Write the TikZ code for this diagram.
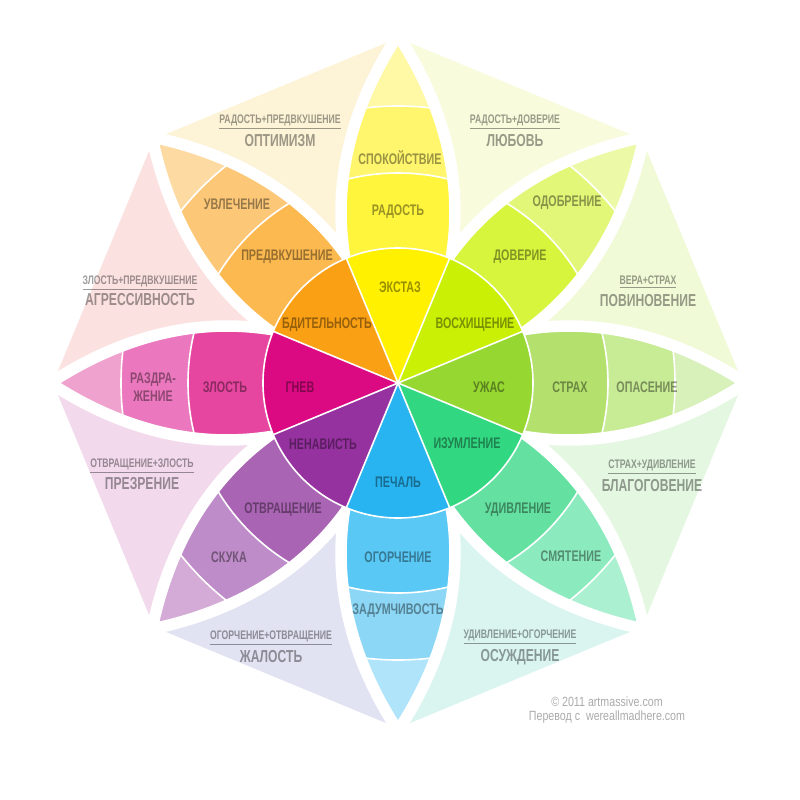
\documentclass[tikz,border=0pt]{standalone}
\usepackage{fontspec}
\newfontfamily\lblfont{Liberation Sans}[FakeStretch=0.7]
\newfontfamily\notefont{Liberation Sans}[FakeStretch=0.8]

% petal colours: 1 inner, 2 middle, 3 outer, 4 tip
\definecolor{yel1}{RGB}{255,241,0}   \definecolor{yel2}{RGB}{255,245,60}
\definecolor{yel3}{RGB}{255,246,110} \definecolor{yel4}{RGB}{255,248,165}
\definecolor{lim1}{RGB}{202,240,5}   \definecolor{lim2}{RGB}{215,245,60}
\definecolor{lim3}{RGB}{226,246,120} \definecolor{lim4}{RGB}{236,250,168}
\definecolor{grn1}{RGB}{150,215,50}  \definecolor{grn2}{RGB}{180,225,110}
\definecolor{grn3}{RGB}{200,235,150} \definecolor{grn4}{RGB}{216,241,186}
\definecolor{tea1}{RGB}{50,215,130}  \definecolor{tea2}{RGB}{100,225,160}
\definecolor{tea3}{RGB}{140,235,190} \definecolor{tea4}{RGB}{172,240,210}
\definecolor{blu1}{RGB}{40,180,240}  \definecolor{blu2}{RGB}{90,200,245}
\definecolor{blu3}{RGB}{140,215,245} \definecolor{blu4}{RGB}{176,228,250}
\definecolor{pur1}{RGB}{150,50,160}  \definecolor{pur2}{RGB}{170,100,180}
\definecolor{pur3}{RGB}{190,140,200} \definecolor{pur4}{RGB}{212,170,215}
\definecolor{mag1}{RGB}{220,10,130}  \definecolor{mag2}{RGB}{230,70,160}
\definecolor{mag3}{RGB}{235,120,190} \definecolor{mag4}{RGB}{240,162,206}
\definecolor{ora1}{RGB}{250,160,20}  \definecolor{ora2}{RGB}{252,185,80}
\definecolor{ora3}{RGB}{252,200,120} \definecolor{ora4}{RGB}{253,218,162}
% dyad triangles
\definecolor{optc}{RGB}{253,243,215} \definecolor{lovc}{RGB}{248,251,220}
\definecolor{subc}{RGB}{240,250,215} \definecolor{awec}{RGB}{228,247,225}
\definecolor{disc}{RGB}{218,245,240} \definecolor{pitc}{RGB}{225,226,242}
\definecolor{conc}{RGB}{242,218,236} \definecolor{aggc}{RGB}{252,225,225}

\tikzset{
  lbl/.style={font=\lblfont\bfseries\fontsize{11.5}{13}\selectfont,
    text=black, text opacity=0.4, align=center, inner sep=0pt},
  dyad/.style={font=\lblfont\bfseries\fontsize{13}{14}\selectfont,
    text=black, text opacity=0.38, inner sep=0pt},
  mix/.style={font=\lblfont\bfseries\fontsize{9.3}{10}\selectfont,
    text=black, text opacity=0.38, inner sep=0pt},
  gap/.style={draw=white, line width=13.5pt, line join=round},
  rim/.style={draw=white, line width=3.8pt, line join=round},
  seam/.style={draw=white, line width=1.2pt}
}

\begin{document}
\begin{tikzpicture}[x=0.75pt, y=0.75pt]
  \fill[white] (-398,-417) rectangle (402,383);
  \useasboundingbox (-398,-417) rectangle (402,383);

  \foreach \a/\c in {112.5/optc,67.5/lovc,22.5/subc,-22.5/awec,
                     -67.5/disc,-112.5/pitc,-157.5/conc,157.5/aggc}
    \fill[\c] (0,0) -- ({\a-22.5}:345) -- ({\a+22.5}:345) -- cycle;

  \foreach \a in {90,45,0,-45,-90,-135,180,135}
    \draw[gap] (0,0) to[bend left=32.5] (\a:342) to[bend left=32.5] (0,0);

  \foreach \a/\c in {90/yel,45/lim,0/grn,-45/tea,-90/blu,-135/pur,180/mag,135/ora} {
    \begin{scope}
      \clip (0,0) to[bend left=32.5] (\a:342) to[bend left=32.5] (0,0);
      \fill[\c4] (0,0) circle (345);
      \fill[\c3] (0,0) circle (277);
      \fill[\c2] (0,0) circle (210);
      \draw[seam] (0,0) circle (277) (0,0) circle (210);
    \end{scope}
  }
  \foreach \a in {90,45,0,-45,-90,-135,180,135}
    \draw[rim] (0,0) to[bend left=32.5] (\a:342) to[bend left=32.5] (0,0);

  \foreach \a/\c in {90/yel,45/lim,0/grn,-45/tea,-90/blu,-135/pur,180/mag,135/ora}
    \fill[\c1] (0,0) -- ({\a-22.5}:135)
      arc[start angle=\a-22.5, end angle=\a+22.5, radius=135] -- cycle;
  \foreach \a in {22.5,67.5,...,337.5}
    \draw[seam] (0,0) -- (\a:135);
  \draw[seam] (0,0) circle (135);

  \node[lbl] (ecstasy)      at (2,96)     {ЭКСТАЗ};
  \node[lbl] (joy)          at (0,171)    {РАДОСТЬ};
  \node[lbl] (serenity)     at (2,225)    {СПОКОЙСТВИЕ};
  \node[lbl] (admiration)   at (77,58)    {ВОСХИЩЕНИЕ};
  \node[lbl] (trust)        at (122,126)  {ДОВЕРИЕ};
  \node[lbl] (acceptance)   at (169,180)  {ОДОБРЕНИЕ};
  \node[lbl] (terror)       at (91,-4)    {УЖАС};
  \node[lbl] (fear)         at (172,-4)   {СТРАХ};
  \node[lbl] (apprehension) at (249,-4)   {ОПАСЕНИЕ};
  \node[lbl] (amazement)    at (69,-60)   {ИЗУМЛЕНИЕ};
  \node[lbl] (surprise)     at (120,-127) {УДИВЛЕНИЕ};
  \node[lbl] (distraction)  at (173,-173) {СМЯТЕНИЕ};
  \node[lbl] (grief)        at (0,-99)    {ПЕЧАЛЬ};
  \node[lbl] (sadness)      at (0,-174)   {ОГОРЧЕНИЕ};
  \node[lbl] (pensiveness)  at (0,-228)   {ЗАДУМЧИВОСТЬ};
  \node[lbl] (loathing)     at (-75,-61)  {НЕНАВИСТЬ};
  \node[lbl] (disgust)      at (-115,-127){ОТВРАЩЕНИЕ};
  \node[lbl] (boredom)      at (-169,-174){СКУКА};
  \node[lbl] (rage)         at (-98,-4)   {ГНЕВ};
  \node[lbl] (anger)        at (-173,-4)  {ЗЛОСТЬ};
  \node[lbl] (annoyance)    at (-245,-4)  {РАЗДРА-\\ЖЕНИЕ};
  \node[lbl] (vigilance)    at (-71,58)   {БДИТЕЛЬНОСТЬ};
  \node[lbl] (anticipation) at (-111,126) {ПРЕДВКУШЕНИЕ};
  \node[lbl] (interest)     at (-161,179) {УВЛЕЧЕНИЕ};

  \node[mix]  (optimism-mix)    at (-118,261) {\underline{РАДОСТЬ+ПРЕДВКУШЕНИЕ}};
  \node[dyad] (optimism)        at (-118,242) {ОПТИМИЗМ};
  \node[mix]  (love-mix)        at (117,261)  {\underline{РАДОСТЬ+ДОВЕРИЕ}};
  \node[dyad] (love)            at (117,242)  {ЛЮБОВЬ};
  \node[mix]  (submission-mix)  at (250,101)  {\underline{ВЕРА+СТРАХ}};
  \node[dyad] (submission)      at (250,82)   {ПОВИНОВЕНИЕ};
  \node[mix]  (awe-mix)         at (254,-84)  {\underline{СТРАХ+УДИВЛЕНИЕ}};
  \node[dyad] (awe)             at (254,-103) {БЛАГОГОВЕНИЕ};
  \node[mix]  (disapproval-mix) at (122,-254) {\underline{УДИВЛЕНИЕ+ОГОРЧЕНИЕ}};
  \node[dyad] (disapproval)     at (122,-274) {ОСУЖДЕНИЕ};
  \node[mix]  (pity-mix)        at (-127,-255){\underline{ОГОРЧЕНИЕ+ОТВРАЩЕНИЕ}};
  \node[dyad] (pity)            at (-127,-274){ЖАЛОСТЬ};
  \node[mix]  (contempt-mix)    at (-256,-83) {\underline{ОТВРАЩЕНИЕ+ЗЛОСТЬ}};
  \node[dyad] (contempt)        at (-256,-101){ПРЕЗРЕНИЕ};
  \node[mix]  (aggression-mix)  at (-258,100) {\underline{ЗЛОСТЬ+ПРЕДВКУШЕНИЕ}};
  \node[dyad] (aggression)      at (-258,83)  {АГРЕССИВНОСТЬ};

  \node[font=\notefont\fontsize{10}{10.5}\selectfont, text=black!33,
        align=center, inner sep=0pt] (credit) at (209,-327)
    {© 2011 artmassive.com\\Перевод с~ wereallmadhere.com};
\end{tikzpicture}
\end{document}
